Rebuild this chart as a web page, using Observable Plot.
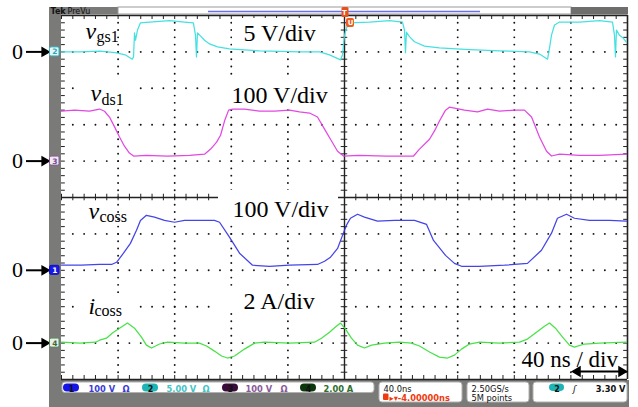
<!DOCTYPE html>
<html><head><meta charset="utf-8">
<script src="https://cdn.jsdelivr.net/npm/d3@7"></script>
<script src="https://cdn.jsdelivr.net/npm/@observablehq/plot@0.6"></script>
<style>body{margin:0;background:#fff}</style>
</head><body><div id="chart"></div>
<script>
// ---- channel settings (scope) ----
const channelNames = ["vgs1", "vds1", "vcoss", "icoss"];
const channelNums = ["2", "3", "1", "4"];
const zeroDiv = [4, 1, -2, -4];          // zero level, divisions from centre
const perDiv = [5, 100, 100, 2];         // V/div or A/div
const traceColors = ["#3ddede", "#e03ee0", "#3a3ae6", "#3ee03e"];
const scaleLabels = ["5 V/div", "100 V/div", "100 V/div", "2 A/div"];
const timePerDiv = 40; // ns

// ---- waveforms (time in ns, value in V or A) ----
const vgsT = [-200,-187,-173,-162,-155,-150,-149.1,-148.4,-147.7,-146.3,-144.2,-137.8,-123.7,-113.1,-106.8,-105.3,-104.6,-103.9,-101.8,-98.9,-95.4,-89.7,-81.3,-60.1,-31.8,-17.7,-10.6,-2.8,-1.4,0,1.4,3.5,17.7,31.8,41,42.4,43.1,43.8,45.9,49.5,56.5,67.1,88.3,109.5,130.7,137.8,143.5,144.9,146.3,148.4,152,166.1,180.2,189.4,190.8,191.5,192.2,194.3,197,199.3];
const vgsV = [0,0,0.1,-0.1,-0.4,-1.0,-0.7,2.6,1.6,3.0,4.0,4.1,4.3,4.1,4.0,2.3,-0.7,2.6,2.2,1.6,1.1,0.7,0.4,0.14,0,0,-0.4,-1.1,-0.4,2.3,3.3,4.0,4.1,4.3,4.1,3.0,-0.1,2.7,2.1,1.4,0.8,0.55,0.3,0.14,0,-0.3,-1.0,0.55,2.3,3.7,4.1,4.1,4.3,4.1,2.3,-0.7,3.0,2.3,1.9,1.3];

const vdsT = [-200,-190.8,-180.2,-173.1,-169.6,-166.1,-162.5,-159,-155.5,-152,-149.1,-140,-125,-109.5,-98.9,-94.6,-90.4,-87.6,-84.8,-81.9,-79.1,-70.7,-60.1,-49.5,-38.9,-31.8,-24.7,-19.1,-14.1,-9.9,-4.9,-0.7,10,30,48.8,53,60.1,64.3,67.1,71.4,74.2,84.8,94,101.1,109.5,120.1,127.2,132.2,137.8,142.8,146.3,152,166.1,180.2,199.3];
const vdsV = [137,140,137,143,137,121,94,66,41,22,14,16,14,16,19,33,52,71,110,140,143,143,137,137,140,135,132,121,88,60,27,14,16,14,14,33,60,88,110,140,148,140,135,143,137,140,140,121,66,27,14,19,16,16,19];

const vcossT = [-200,-186,-173.1,-164.6,-161.1,-156.2,-151.3,-147,-144.2,-140,-134.3,-127.2,-120.1,-113.1,-102.5,-91.9,-88.3,-81.3,-74.2,-65,-53,-38.9,-19.1,-14.1,-9.9,-4.9,-1.4,1.4,4.2,9.2,14.1,23.3,35.3,49.5,58,62.9,71.4,77.7,82.7,95.4,113.1,129.3,139.2,146.3,150.5,156.9,162.5,173.1,187.3,199.3];
const vcossV = [14,14,16,16,22,47,74,110,137,151,146,137,132,137,137,137,132,91,47,14,11,14,16,25,36,60,96,124,143,154,146,135,137,137,126,82,41,19,11,11,14,19,55,102,143,154,143,137,137,135];

const icossT = [-200,-187,-176,-173.1,-168.2,-164,-159,-153.4,-148.4,-143.5,-140,-136.4,-130.7,-125.1,-113.1,-102.5,-97.5,-91.9,-86.9,-82.7,-77.7,-70.7,-63.6,-56.5,-38.9,-21.2,-16.3,-10.6,-6.4,-2.8,0.7,4.9,9.2,14.1,19.1,28.3,38.9,47.3,53,60.1,67.1,72.8,77.7,82.7,88.3,95.4,109.5,123.7,129.3,135.7,141.3,144.9,149.1,154.1,159,162.5,169.6,180.2,199.3];
const icossV = [0.05,0,0.05,0.16,0.27,0.55,0.82,1.1,0.82,0.33,-0.11,-0.27,-0.05,0.05,0,0,-0.16,-0.44,-0.71,-0.82,-0.71,-0.33,0,0.05,0,0.05,0.27,0.6,0.88,1.1,0.77,0.27,-0.11,-0.27,-0.11,0,0.05,0,-0.16,-0.49,-0.77,-0.82,-0.66,-0.33,-0.05,0.05,0,0.05,0.22,0.6,0.93,1.1,0.82,0.33,-0.11,-0.22,-0.05,0,0.05];

const traceT = [vgsT, vdsT, vcossT, icossT];
const traceV = [vgsV, vdsV, vcossV, icossV];

// ---- status bar texts ----
const chStatus = [
  {n:"1", txt:"100 V", col:"#3b3bd8", oval:"#1414e8"},
  {n:"2", txt:"5.00 V", col:"#45c4c4", oval:"#1fb4b4"},
  {n:"3", txt:"100 V", col:"#8a5a9a", oval:"#3a0c3a"},
  {n:"4", txt:"2.00 A", col:"#2e6e2e", oval:"#0c360c"}
];
const timebase = "40.0ns", trigPos = "\u25B8\u25BE-4.00000ns";
const sampleRate = "2.50GS/s", recLen = "5M points", trigLevel = "3.30 V";

// ---------- build tables ----------
const traces = channelNames.map((name, c) =>
  traceT[c].map((t, i) => ({ch: name, t, d: zeroDiv[c] + traceV[c][i] / perDiv[c]})));

// screen-to-scale helpers for annotations (px of the 638x407 picture)
const X = px => (px - 61) * (10 * timePerDiv) / 566 - 5 * timePerDiv;
const Y = py => (197 - py) / 36.4;

const range = (a, b) => d3.range(a, b + 1);
const minorT = range(-25, 25).map(i => i * 8);
const minorD = range(-25, 25).map(i => i * 0.2);
const gridDots = [];
for (const k of [-4,-3,-2,-1,1,2,3,4]) for (const i of range(-24, 24)) gridDots.push({t: k * 40, d: i * 0.2});
for (const j of [-4,-3,-2,-1,1,2,3,4]) for (const i of range(-24, 24)) gridDots.push({t: i * 8, d: j});

const serif = "'Liberation Serif','Times New Roman',serif";
const sans = "'DejaVu Sans',Verdana,sans-serif";

const R = (x1, x2, y1, y2, o = {}) => ({x1, x2, y1, y2, ...o});
const rectMark = (rows, fill, stroke, rx = 0, sw = 1) =>
  Plot.rect(rows, {x1: "x1", x2: "x2", y1: "y1", y2: "y2", fill, stroke, rx, strokeWidth: sw});

const marks = [];
// scope bezels
marks.push(rectMark([R(X(49), X(61), Y(7), Y(407))], "#7a7a78"));
marks.push(rectMark([R(X(49), X(629), Y(380), Y(407))], "#7a7a78"));
marks.push(rectMark([R(X(49), X(118), Y(7), Y(14.5))], "#7a7a78"));
marks.push(rectMark([R(X(118), X(571), Y(7), Y(14))], "#fff", "#9a9a9a"));
marks.push(rectMark([R(X(571), X(628), Y(7), Y(14.5))], "#6e6e6c"));
marks.push(Plot.ruleY([Y(11)], {x1: X(208), x2: X(480), stroke: "#6c6cf0", strokeWidth: 1.3}));
marks.push(Plot.text(["Tek"], {x: X(50), y: Y(13.6), text: d => d, textAnchor: "start", lineAnchor: "bottom", fontSize: 8, fontWeight: "bold", fontFamily: sans, fill: "#111"}));
marks.push(Plot.text(["PreVu"], {x: X(67), y: Y(13.6), text: d => d, textAnchor: "start", lineAnchor: "bottom", fontSize: 8, fontFamily: sans, fill: "#111"}));

// grid
marks.push(Plot.dot(gridDots, {x: "t", y: "d", r: 0.95, fill: "#111", stroke: null}));
marks.push(Plot.ruleY([0], {x1: -200, x2: 200, stroke: "#222", strokeWidth: 1.4}));
marks.push(Plot.ruleX([0], {y1: -5, y2: 5, stroke: "#222", strokeWidth: 1.4}));
marks.push(Plot.ruleX(minorT, {x: d => d, y1: -0.09, y2: 0.09, stroke: "#222"}));
marks.push(Plot.ruleY(minorD, {y: d => d, x1: -2.3, x2: 2.3, stroke: "#222"}));
// frame
marks.push(Plot.ruleY([5, -5], {x1: -200, x2: 200, stroke: "#222", strokeWidth: 1.6}));
marks.push(Plot.ruleX([200], {y1: -5, y2: 5, stroke: "#222", strokeWidth: 1.6}));
marks.push(Plot.ruleX(minorT, {x: d => d, y1: 5, y2: 4.89, stroke: "#222"}));
marks.push(Plot.ruleX(minorT, {x: d => d, y1: -5, y2: -4.89, stroke: "#222"}));
marks.push(Plot.ruleY(minorD, {y: d => d, x1: -200, x2: -197.3, stroke: "#222"}));
marks.push(Plot.ruleY(minorD, {y: d => d, x1: 200, x2: 197.3, stroke: "#222"}));

// white boxes behind annotations
marks.push(rectMark([
  R(X(232), X(332), Y(18), Y(46)),
  R(X(80), X(137), Y(80), Y(108)),
  R(X(218), X(338), Y(80), Y(107)),
  R(X(218), X(338), Y(190), Y(221)),
  R(X(80), X(137), Y(294), Y(319)),
  R(X(218), X(338), Y(288), Y(313)),
  R(X(518), X(622), Y(347), Y(368))
], "#fff"));

// traces
traces.forEach((rows, c) => marks.push(Plot.line(rows, {x: "t", y: "d", stroke: traceColors[c], strokeWidth: 1.25, strokeOpacity: 0.95, curve: "linear"})));

// trace name labels (italic symbol + subscript)
const nameMain = ["v", "v", "v", "i"];
const nameSub = ["gs1", "ds1", "coss", "coss"];
const nameX = [85, 90, 88, 88];
const nameBase = [38, 100, 218, 313];
const subX = [96, 101, 99, 94];
const subBase = [41, 104, 221, 315];
marks.push(Plot.text(nameMain, {x: (d, i) => X(nameX[i]), y: (d, i) => Y(nameBase[i]), text: d => d, textAnchor: "start", lineAnchor: "bottom", fontSize: 24, fontStyle: "italic", fontFamily: serif, fill: "#000"}));
marks.push(Plot.text(nameSub, {x: (d, i) => X(subX[i]), y: (d, i) => Y(subBase[i]), text: d => d, textAnchor: "start", lineAnchor: "bottom", fontSize: 16, fontFamily: serif, fill: "#000"}));
const scaleX = [243, 231, 232, 243];
const scaleBase = [40, 102, 216, 308];
marks.push(Plot.text(scaleLabels, {x: (d, i) => X(scaleX[i]), y: (d, i) => Y(scaleBase[i]), text: d => d, textAnchor: "start", lineAnchor: "bottom", fontSize: 24, fontFamily: serif, fill: "#000"}));
marks.push(Plot.text([`${timePerDiv} ns / div`], {x: X(521), y: Y(366), text: d => d, textAnchor: "start", lineAnchor: "bottom", fontSize: 23, fontFamily: serif, fill: "#000"}));
marks.push(Plot.ruleY([Y(371)], {x1: X(578), x2: X(620), stroke: "#000", strokeWidth: 2}));
marks.push(Plot.dot([X(577)], {x: d => d, y: Y(371), symbol: "triangle", rotate: -90, r: 4.2, fill: "#000", stroke: null}));
marks.push(Plot.dot([X(621)], {x: d => d, y: Y(371), symbol: "triangle", rotate: 90, r: 4.2, fill: "#000", stroke: null}));

// zero arrows & channel markers
const markerFill = ["#e6f6f6", "#efe9f2", "#1818e8", "#e8eee8"];
const markerStroke = ["#36b6c6", "#8a5a9a", "#1010c0", "#5a8a5a"];
const markerText = ["#2aa8b8", "#7a4a8a", "#fff", "#3a6a3a"];
marks.push(Plot.text(zeroDiv, {x: X(17), y: d => d - 7 / 36.4, text: () => "0", lineAnchor: "bottom", fontSize: 22, fontFamily: serif, fill: "#000"}));
marks.push(Plot.ruleY(zeroDiv, {y: d => d, x1: X(26), x2: X(42), stroke: "#000", strokeWidth: 2}));
marks.push(Plot.dot(zeroDiv, {x: X(44), y: d => d, symbol: "triangle", rotate: 90, r: 4, fill: "#000", stroke: null}));
marks.push(Plot.rect(zeroDiv, {x1: X(49.5), x2: X(59), y1: d => d - 4.5 / 36.4, y2: d => d + 4.5 / 36.4, fill: (d, i) => markerFill[i], stroke: (d, i) => markerStroke[i], rx: 1.5}));
marks.push(Plot.text(zeroDiv, {x: X(54.3), y: d => d, text: (d, i) => channelNums[i], fontSize: 7.5, fontWeight: "bold", fontFamily: sans, fill: (d, i) => markerText[i]}));

// trigger markers
marks.push(rectMark([R(X(341.5), X(348.5), Y(7), Y(17))], "#e8501e", null, 1.5));
marks.push(Plot.text(["T"], {x: 0, y: Y(12.5), text: d => d, fontSize: 7, fontWeight: "bold", fontFamily: sans, fill: "#fff"}));
marks.push(rectMark([R(X(346), X(354), Y(18), Y(27))], "#f05a1e", null, 2));
marks.push(Plot.text(["U"], {x: X(350), y: Y(22.5), text: d => d, fontSize: 7, fontWeight: "bold", fontFamily: sans, fill: "#fff"}));

// status bar
marks.push(rectMark([R(X(62), X(374), Y(382), Y(392.5))], "#fff", "#b0b0b0", 3));
marks.push(rectMark([R(X(379), X(462), Y(382), Y(402)), R(X(467), X(529), Y(382), Y(402)), R(X(533), X(627), Y(382), Y(402))], "#fff", "#b0b0b0", 3));
const ovalX = [63, 142, 222, 300];
const txtX = [88, 166, 245, 323];
const omX = [122, 202, 280, null];
marks.push(Plot.rect(chStatus, {x1: (d, i) => X(ovalX[i]), x2: (d, i) => X(ovalX[i] + 16), y1: Y(391.5), y2: Y(383.5), fill: d => d.oval, rx: 4}));
marks.push(Plot.text(chStatus, {x: (d, i) => X(ovalX[i] + 8), y: Y(391.2), text: "n", lineAnchor: "bottom", fontSize: 8, fontWeight: "bold", fontFamily: sans, fill: "#111"}));
marks.push(Plot.text(chStatus, {x: (d, i) => X(txtX[i]), y: Y(391.2), text: "txt", textAnchor: "start", lineAnchor: "bottom", fontSize: 8.3, fontWeight: "bold", fontFamily: sans, fill: d => d.col}));
marks.push(Plot.text(chStatus.slice(0, 3), {x: (d, i) => X(omX[i]), y: Y(391.2), text: () => "\u03A9", textAnchor: "start", lineAnchor: "bottom", fontSize: 8.3, fontWeight: "bold", fontFamily: sans, fill: d => d.col}));
marks.push(Plot.text([timebase], {x: X(383), y: Y(391.5), text: d => d, textAnchor: "start", lineAnchor: "bottom", fontSize: 8.3, fontFamily: sans, fill: "#111"}));
marks.push(rectMark([R(X(383), X(388.5), Y(393.5), Y(400))], "#ee3a10", null, 1));
marks.push(Plot.text([trigPos], {x: X(389), y: Y(400.5), text: d => d, textAnchor: "start", lineAnchor: "bottom", fontSize: 8.3, fontWeight: "bold", fontFamily: sans, fill: "#ee3a10"}));
marks.push(Plot.text([sampleRate], {x: X(471), y: Y(391.5), text: d => d, textAnchor: "start", lineAnchor: "bottom", fontSize: 8.3, fontFamily: sans, fill: "#111"}));
marks.push(Plot.text([recLen], {x: X(471), y: Y(400.5), text: d => d, textAnchor: "start", lineAnchor: "bottom", fontSize: 8.3, fontFamily: sans, fill: "#111"}));
marks.push(rectMark([R(X(549), X(564), Y(391), Y(383.5))], "#1fb4b4", null, 4));
marks.push(Plot.text(["2"], {x: X(556.5), y: Y(391), text: d => d, lineAnchor: "bottom", fontSize: 8, fontWeight: "bold", fontFamily: sans, fill: "#111"}));
marks.push(Plot.text(["\u0283"], {x: X(574), y: Y(391.5), text: d => d, lineAnchor: "bottom", fontSize: 9, fontStyle: "italic", fontFamily: sans, fill: "#111"}));
marks.push(Plot.text([trigLevel], {x: X(625), y: Y(391.5), text: d => d, textAnchor: "end", lineAnchor: "bottom", fontSize: 8.3, fontWeight: "bold", fontFamily: sans, fill: "#111"}));

const chart = Plot.plot({
  width: 638, height: 407, margin: 0,
  style: {background: "#fff"},
  x: {domain: [-5 * timePerDiv, 5 * timePerDiv], range: [61, 627], axis: null},
  y: {domain: [-5, 5], range: [379, 15], axis: null},
  marks
});
document.getElementById("chart").append(chart);
</script>
</body></html>
